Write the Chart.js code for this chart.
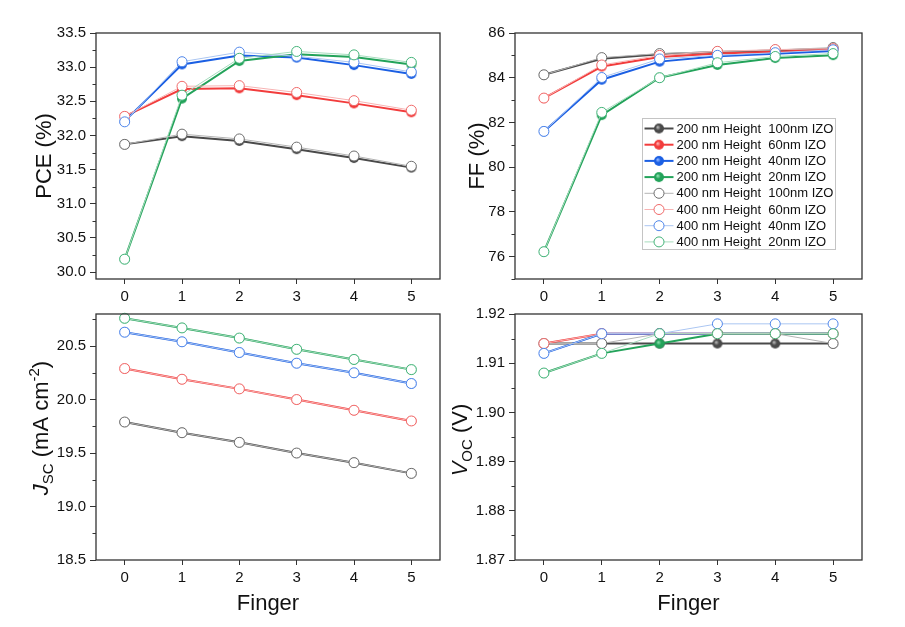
<!DOCTYPE html>
<html>
<head>
<meta charset="utf-8">
<script src="https://cdn.jsdelivr.net/npm/chart.js@4.4.1/dist/chart.umd.min.js"></script>
<style>
    body { margin: 0; background: #fff; }
    #wrap { position: relative; width: 905px; height: 627px; overflow: hidden; }
    canvas { position: absolute; }
</style>
</head>
<body>
<div id="wrap">
    <canvas id="c-pce" style="left:0;top:0"></canvas>
    <canvas id="c-ff" style="left:452px;top:0"></canvas>
    <canvas id="c-jsc" style="left:0;top:300px"></canvas>
    <canvas id="c-voc" style="left:452px;top:300px"></canvas>
</div>
<script>
// x values and series names
const fingers = [0, 1, 2, 3, 4, 5];
const izoNames = ['100nm IZO', '60nm IZO', '40nm IZO', '20nm IZO'];

// order inside each block: 100, 60, 40, 20 nm IZO
const pce200 = [
    [31.87, 31.99, 31.92, 31.80, 31.67, 31.53],
    [32.28, 32.68, 32.69, 32.59, 32.47, 32.34],
    [32.21, 33.04, 33.17, 33.14, 33.03, 32.90],
    [30.19, 32.54, 33.09, 33.19, 33.15, 33.04]
];
const pce400 = [
    [31.87, 32.02, 31.95, 31.83, 31.70, 31.55],
    [32.28, 32.72, 32.73, 32.63, 32.51, 32.37],
    [32.20, 33.08, 33.22, 33.16, 33.07, 32.93],
    [30.19, 32.59, 33.13, 33.23, 33.18, 33.07]
];
const ff200 = [
    [84.13, 84.85, 85.05, 85.15, 85.22, 85.30],
    [83.09, 84.50, 84.93, 85.08, 85.16, 85.26],
    [81.60, 83.91, 84.72, 84.96, 85.07, 85.20],
    [76.22, 82.33, 84.00, 84.57, 84.88, 85.01]
];
const ff400 = [
    [84.13, 84.90, 85.08, 85.17, 85.24, 85.35],
    [83.09, 84.57, 85.00, 85.18, 85.26, 85.30],
    [81.60, 84.01, 84.84, 85.00, 85.12, 85.25],
    [76.22, 82.45, 84.00, 84.67, 84.95, 85.08]
];
const jsc200 = [
    [19.79, 19.69, 19.60, 19.50, 19.41, 19.31],
    [20.29, 20.19, 20.10, 20.00, 19.90, 19.80],
    [20.63, 20.54, 20.44, 20.34, 20.25, 20.15],
    [20.76, 20.67, 20.575, 20.47, 20.375, 20.28]
];
const jsc400 = [
    [19.79, 19.69, 19.60, 19.50, 19.41, 19.31],
    [20.29, 20.19, 20.10, 20.00, 19.90, 19.80],
    [20.63, 20.54, 20.44, 20.34, 20.25, 20.15],
    [20.76, 20.67, 20.575, 20.47, 20.375, 20.28]
];
const voc200 = [
    [1.914, 1.914, 1.914, 1.914, 1.914, 1.914],
    [1.914, 1.916, 1.916, 1.916, 1.916, 1.916],
    [1.912, 1.916, 1.916, 1.916, 1.916, 1.916],
    [1.908, 1.912, 1.914, 1.916, 1.916, 1.916]
];
const voc400 = [
    [1.914, 1.914, 1.916, 1.916, 1.916, 1.914],
    [1.914, 1.916, 1.916, 1.916, 1.916, 1.916],
    [1.912, 1.916, 1.916, 1.918, 1.918, 1.918],
    [1.908, 1.912, 1.916, 1.916, 1.916, 1.916]
];

// tick labels
const pceTicks = [30.0, 30.5, 31.0, 31.5, 32.0, 32.5, 33.0, 33.5];
const ffTicks = [76, 78, 80, 82, 84, 86];
const jscTicks = [18.5, 19.0, 19.5, 20.0, 20.5];
const vocTicks = [1.87, 1.88, 1.89, 1.90, 1.91, 1.92];

const FONT = '"Liberation Sans", Arial, Helvetica, sans-serif';
const AXIS = '#333333';
const solidColors = ['#4a4a4a', '#f23c3c', '#1b5fe3', '#23a35a'];
const ballLight = ['#b8b8b8', '#ffb0b0', '#8fb4ff', '#8fe0b0'];
const thinColors = ['#b4b4b4', '#f7b3b3', '#abc6f2', '#a6dcbe'];
const openEdge = ['#6e6e6e', '#f06a6a', '#4f86ea', '#45b47a'];

// shaded ball used as marker for the 200 nm series
function makeBall(base, light) {
    const c = document.createElement('canvas');
    c.width = 12; c.height = 12;
    const g = c.getContext('2d');
    const grad = g.createRadialGradient(4.6, 4.6, 0.4, 6, 6, 5.2);
    grad.addColorStop(0, light);
    grad.addColorStop(0.45, base);
    grad.addColorStop(1, base);
    g.fillStyle = grad;
    g.beginPath();
    g.arc(6, 6, 5, 0, Math.PI * 2);
    g.fill();
    return c;
}
const balls = solidColors.map((c, i) => makeBall(c, ballLight[i]));

function buildDatasets(set200, set400) {
    const out = [];
    set200.forEach((vals, i) => {
        out.push({
            label: '200 nm Height  ' + izoNames[i],
            data: fingers.map((f, k) => ({ x: f, y: vals[k] })),
            borderColor: solidColors[i],
            borderWidth: 2,
            pointStyle: balls[i],
            pointRadius: 5,
            order: 7 - i,
            clip: false
        });
    });
    set400.forEach((vals, i) => {
        out.push({
            label: '400 nm Height  ' + izoNames[i],
            data: fingers.map((f, k) => ({ x: f, y: vals[k] })),
            borderColor: thinColors[i],
            borderWidth: 1,
            pointStyle: 'circle',
            pointRadius: 5,
            pointBackgroundColor: '#ffffff',
            pointBorderColor: openEdge[i],
            pointBorderWidth: 1,
            order: 3 - i,
            clip: false
        });
    });
    return out;
}

function drawRich(ctx, segs, cx, cy, rotate) {
    ctx.save();
    ctx.translate(cx, cy);
    if (rotate) ctx.rotate(-Math.PI / 2);
    ctx.fillStyle = '#111';
    ctx.textAlign = 'left';
    ctx.textBaseline = 'alphabetic';
    let total = 0;
    segs.forEach(s => {
        ctx.font = (s.it ? 'italic ' : '') + (s.size || 22) + 'px ' + FONT;
        s.w = ctx.measureText(s.t).width;
        total += s.w;
    });
    let x = -total / 2;
    segs.forEach(s => {
        ctx.font = (s.it ? 'italic ' : '') + (s.size || 22) + 'px ' + FONT;
        ctx.fillText(s.t, x, 8 + (s.dy || 0));
        x += s.w;
    });
    ctx.restore();
}

// frame, minor ticks, axis titles and (optionally) the legend box
const decorPlugin = {
    id: 'decor',
    afterDraw(chart, args, opts) {
        const ctx = chart.ctx;
        const a = chart.chartArea;
        const y = chart.scales.y;
        ctx.save();
        ctx.strokeStyle = AXIS;
        ctx.lineWidth = 1.3;
        ctx.strokeRect(a.left, a.top, a.right - a.left, a.bottom - a.top);

        const major = y.ticks.map(t => t.value);
        const step = major[1] - major[0];
        ctx.beginPath();
        for (let v = major[0] - step / 2; v <= y.max + 1e-9; v += step) {
            if (v < y.min - 1e-9) continue;
            const py = Math.round(y.getPixelForValue(v)) + 0.5;
            ctx.moveTo(a.left, py);
            ctx.lineTo(a.left - 3.5, py);
        }
        ctx.lineWidth = 1;
        ctx.stroke();
        ctx.restore();

        drawRich(ctx, opts.yTitle, a.left - opts.yTitleOffset, (a.top + a.bottom) / 2 + (opts.yTitleShift || 0), true);
        if (opts.xTitle) {
            drawRich(ctx, [{ t: opts.xTitle }], (a.left + a.right) / 2, a.bottom + 42, false);
        }

        if (opts.legend) {
            const bx = a.left + 127.5, by = a.top + 85.5, bw = 193, bh = 131;
            ctx.save();
            ctx.fillStyle = '#ffffff';
            ctx.fillRect(bx, by, bw, bh);
            ctx.strokeStyle = '#c4c4c4';
            ctx.lineWidth = 1;
            ctx.strokeRect(bx, by, bw, bh);
            chart.data.datasets.forEach((ds, i) => {
                const ry = by + 10 + i * 16.2;
                ctx.strokeStyle = ds.borderColor;
                ctx.lineWidth = ds.borderWidth;
                ctx.beginPath();
                ctx.moveTo(bx + 2, ry);
                ctx.lineTo(bx + 31, ry);
                ctx.stroke();
                if (ds.pointStyle instanceof HTMLCanvasElement) {
                    ctx.drawImage(ds.pointStyle, bx + 16.5 - 6, ry - 6, 12, 12);
                } else {
                    ctx.fillStyle = '#ffffff';
                    ctx.strokeStyle = ds.pointBorderColor;
                    ctx.lineWidth = 1;
                    ctx.beginPath();
                    ctx.arc(bx + 16.5, ry, 5, 0, Math.PI * 2);
                    ctx.fill();
                    ctx.stroke();
                }
                ctx.fillStyle = '#111';
                ctx.font = '13px ' + FONT;
                ctx.textBaseline = 'middle';
                ctx.textAlign = 'left';
                ctx.fillText(ds.label, bx + 34, ry + 0.5);
            });
            ctx.restore();
        }
    }
};

function makeChart(id, w, h, pad, yW, xH, ticks, yMin, yMax, dec, datasets, decor) {
    const el = document.getElementById(id);
    el.style.width = w + 'px';
    el.style.height = h + 'px';
    el.width = w;
    el.height = h;
    return new Chart(el, {
        type: 'line',
        data: { datasets },
        options: {
            responsive: false,
            animation: false,
            events: [],
            layout: { padding: pad },
            plugins: {
                legend: { display: false },
                tooltip: { enabled: false },
                decor
            },
            scales: {
                x: {
                    type: 'linear',
                    min: -0.5,
                    max: 5.5,
                    afterBuildTicks: s => { s.ticks = fingers.map(v => ({ value: v })); },
                    afterFit: s => { s.height = xH; },
                    ticks: { font: { family: FONT, size: 15 }, color: '#111', padding: 4, maxRotation: 0, autoSkip: false },
                    grid: { drawOnChartArea: false, tickLength: 5, tickColor: AXIS, tickWidth: 1 },
                    border: { display: false }
                },
                y: {
                    min: yMin,
                    max: yMax,
                    afterBuildTicks: s => { s.ticks = ticks.map(v => ({ value: v })); },
                    afterFit: s => { s.width = yW; },
                    ticks: {
                        font: { family: FONT, size: 15 }, color: '#111', padding: 4, autoSkip: false,
                        callback: v => Number(v).toFixed(dec)
                    },
                    grid: { drawOnChartArea: false, tickLength: 6, tickColor: AXIS, tickWidth: 1 },
                    border: { display: false }
                }
            }
        },
        plugins: [decorPlugin]
    });
}

makeChart('c-pce', 452, 305, { top: 33, right: 12, left: 0, bottom: 0 }, 96, 26,
    pceTicks, 29.9, 33.5, 1, buildDatasets(pce200, pce400),
    { yTitle: [{ t: 'PCE (%)' }], yTitleOffset: 53 });

makeChart('c-ff', 453, 305, { top: 33, right: 43, left: 0, bottom: 0 }, 63, 26,
    ffTicks, 75, 86, 0, buildDatasets(ff200, ff400),
    { yTitle: [{ t: 'FF (%)' }], yTitleOffset: 39, legend: true });

makeChart('c-jsc', 452, 327, { top: 14, right: 12, left: 0, bottom: 0 }, 96, 67,
    jscTicks, 18.5, 20.8, 1, buildDatasets(jsc200, jsc400),
    {
        yTitle: [
            { t: 'J', it: true },
            { t: 'SC', size: 15, dy: 5 },
            { t: ' (mA cm' },
            { t: '-2', size: 15, dy: -9 },
            { t: ')' }
        ],
        yTitleOffset: 56, yTitleShift: -9, xTitle: 'Finger'
    });

makeChart('c-voc', 453, 327, { top: 14, right: 43, left: 0, bottom: 0 }, 63, 67,
    vocTicks, 1.87, 1.92, 2, buildDatasets(voc200, voc400),
    {
        yTitle: [
            { t: 'V', it: true },
            { t: 'OC', size: 15, dy: 5 },
            { t: ' (V)' }
        ],
        yTitleOffset: 56, yTitleShift: 3, xTitle: 'Finger'
    });
</script>
</body>
</html>
